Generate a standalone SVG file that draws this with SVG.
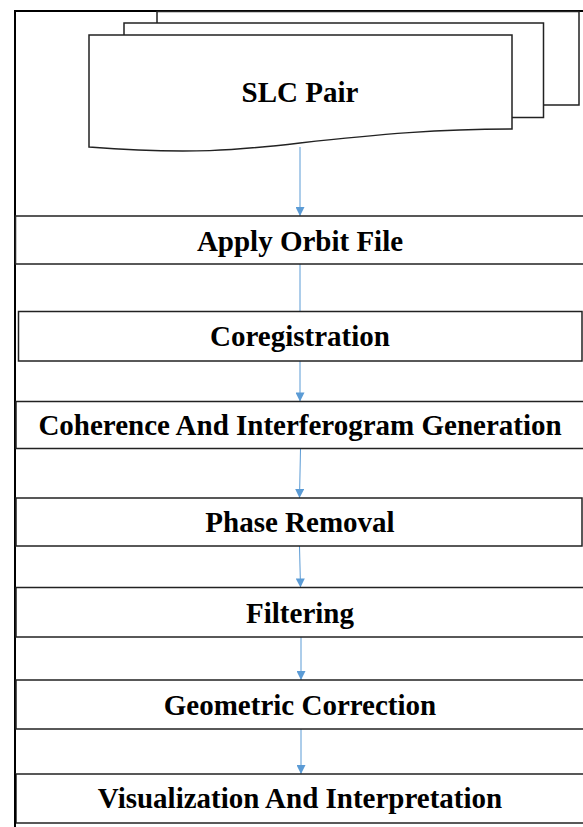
<svg xmlns="http://www.w3.org/2000/svg" width="583" height="827" viewBox="0 0 583 827">
<defs>
<style>
.box{fill:#fff;stroke:#222;stroke-width:1.5}
.doc{fill:#fff;stroke:#222;stroke-width:1.5;stroke-linejoin:miter}
.lbl{font-family:"Liberation Serif","Times New Roman",serif;font-weight:bold;font-size:29px;fill:#000;text-anchor:middle}
.conn{stroke:#5B9BD5;stroke-width:1;fill:none}
</style>
<marker id="ah" viewBox="0 0 10 10" refX="10" refY="5" markerWidth="10" markerHeight="9" markerUnits="userSpaceOnUse" orient="auto">
<path d="M0,0 L10,5 L0,10 Z" fill="#5B9BD5"/>
</marker>
</defs>
<rect width="583" height="827" fill="#fff"/>
<path id="frame" d="M15,827 V11 H583" fill="none" stroke="#000" stroke-width="2"/>

<g id="slc-pair">
<path class="doc" d="M157,11.5 H579 V105 H530 V60 H157 Z"/>
<path class="doc" d="M124,23 H543.5 V117.5 H500 V70 H124 Z"/>
<path class="doc" d="M89,35 H512 V129 C440,129 380,134 300,143 C240,150 190,155 89,147 Z"/>
<text class="lbl" x="300" y="102">SLC Pair</text>
</g>

<g id="connectors">
<line class="conn" x1="300" y1="147" x2="300" y2="216" marker-end="url(#ah)"/>
<line class="conn" x1="300" y1="264" x2="300" y2="311.5"/>
<line class="conn" x1="300" y1="361" x2="300" y2="401.5" marker-end="url(#ah)"/>
<line class="conn" x1="300.5" y1="448.5" x2="299.5" y2="498" marker-end="url(#ah)"/>
<line class="conn" x1="299.5" y1="546" x2="300.5" y2="587.5" marker-end="url(#ah)"/>
<line class="conn" x1="301" y1="637" x2="301" y2="680" marker-end="url(#ah)"/>
<line class="conn" x1="301" y1="729" x2="301" y2="774" marker-end="url(#ah)"/>
</g>

<g id="apply-orbit">
<rect class="box" x="15.5" y="216" width="580" height="48"/>
<text class="lbl" x="300" y="251">Apply Orbit File</text>
</g>
<g id="coregistration">
<rect class="box" x="18.5" y="311.5" width="563.5" height="49.5"/>
<text class="lbl" x="300" y="346">Coregistration</text>
</g>
<g id="coherence">
<rect class="box" x="16" y="401.5" width="580" height="47"/>
<text class="lbl" x="300" y="435">Coherence And Interferogram Generation</text>
</g>
<g id="phase-removal">
<rect class="box" x="16" y="498" width="566" height="48"/>
<text class="lbl" x="300" y="532">Phase Removal</text>
</g>
<g id="filtering">
<rect class="box" x="16" y="587.5" width="580" height="49.5"/>
<text class="lbl" x="300" y="623">Filtering</text>
</g>
<g id="geometric-correction">
<rect class="box" x="16" y="680" width="580" height="49"/>
<text class="lbl" x="300" y="715">Geometric Correction</text>
</g>
<g id="visualization">
<rect class="box" x="16" y="774" width="580" height="49"/>
<text class="lbl" x="300" y="808">Visualization And Interpretation</text>
</g>
<line x1="15" y1="774" x2="15" y2="827" stroke="#000" stroke-width="2"/>
</svg>
